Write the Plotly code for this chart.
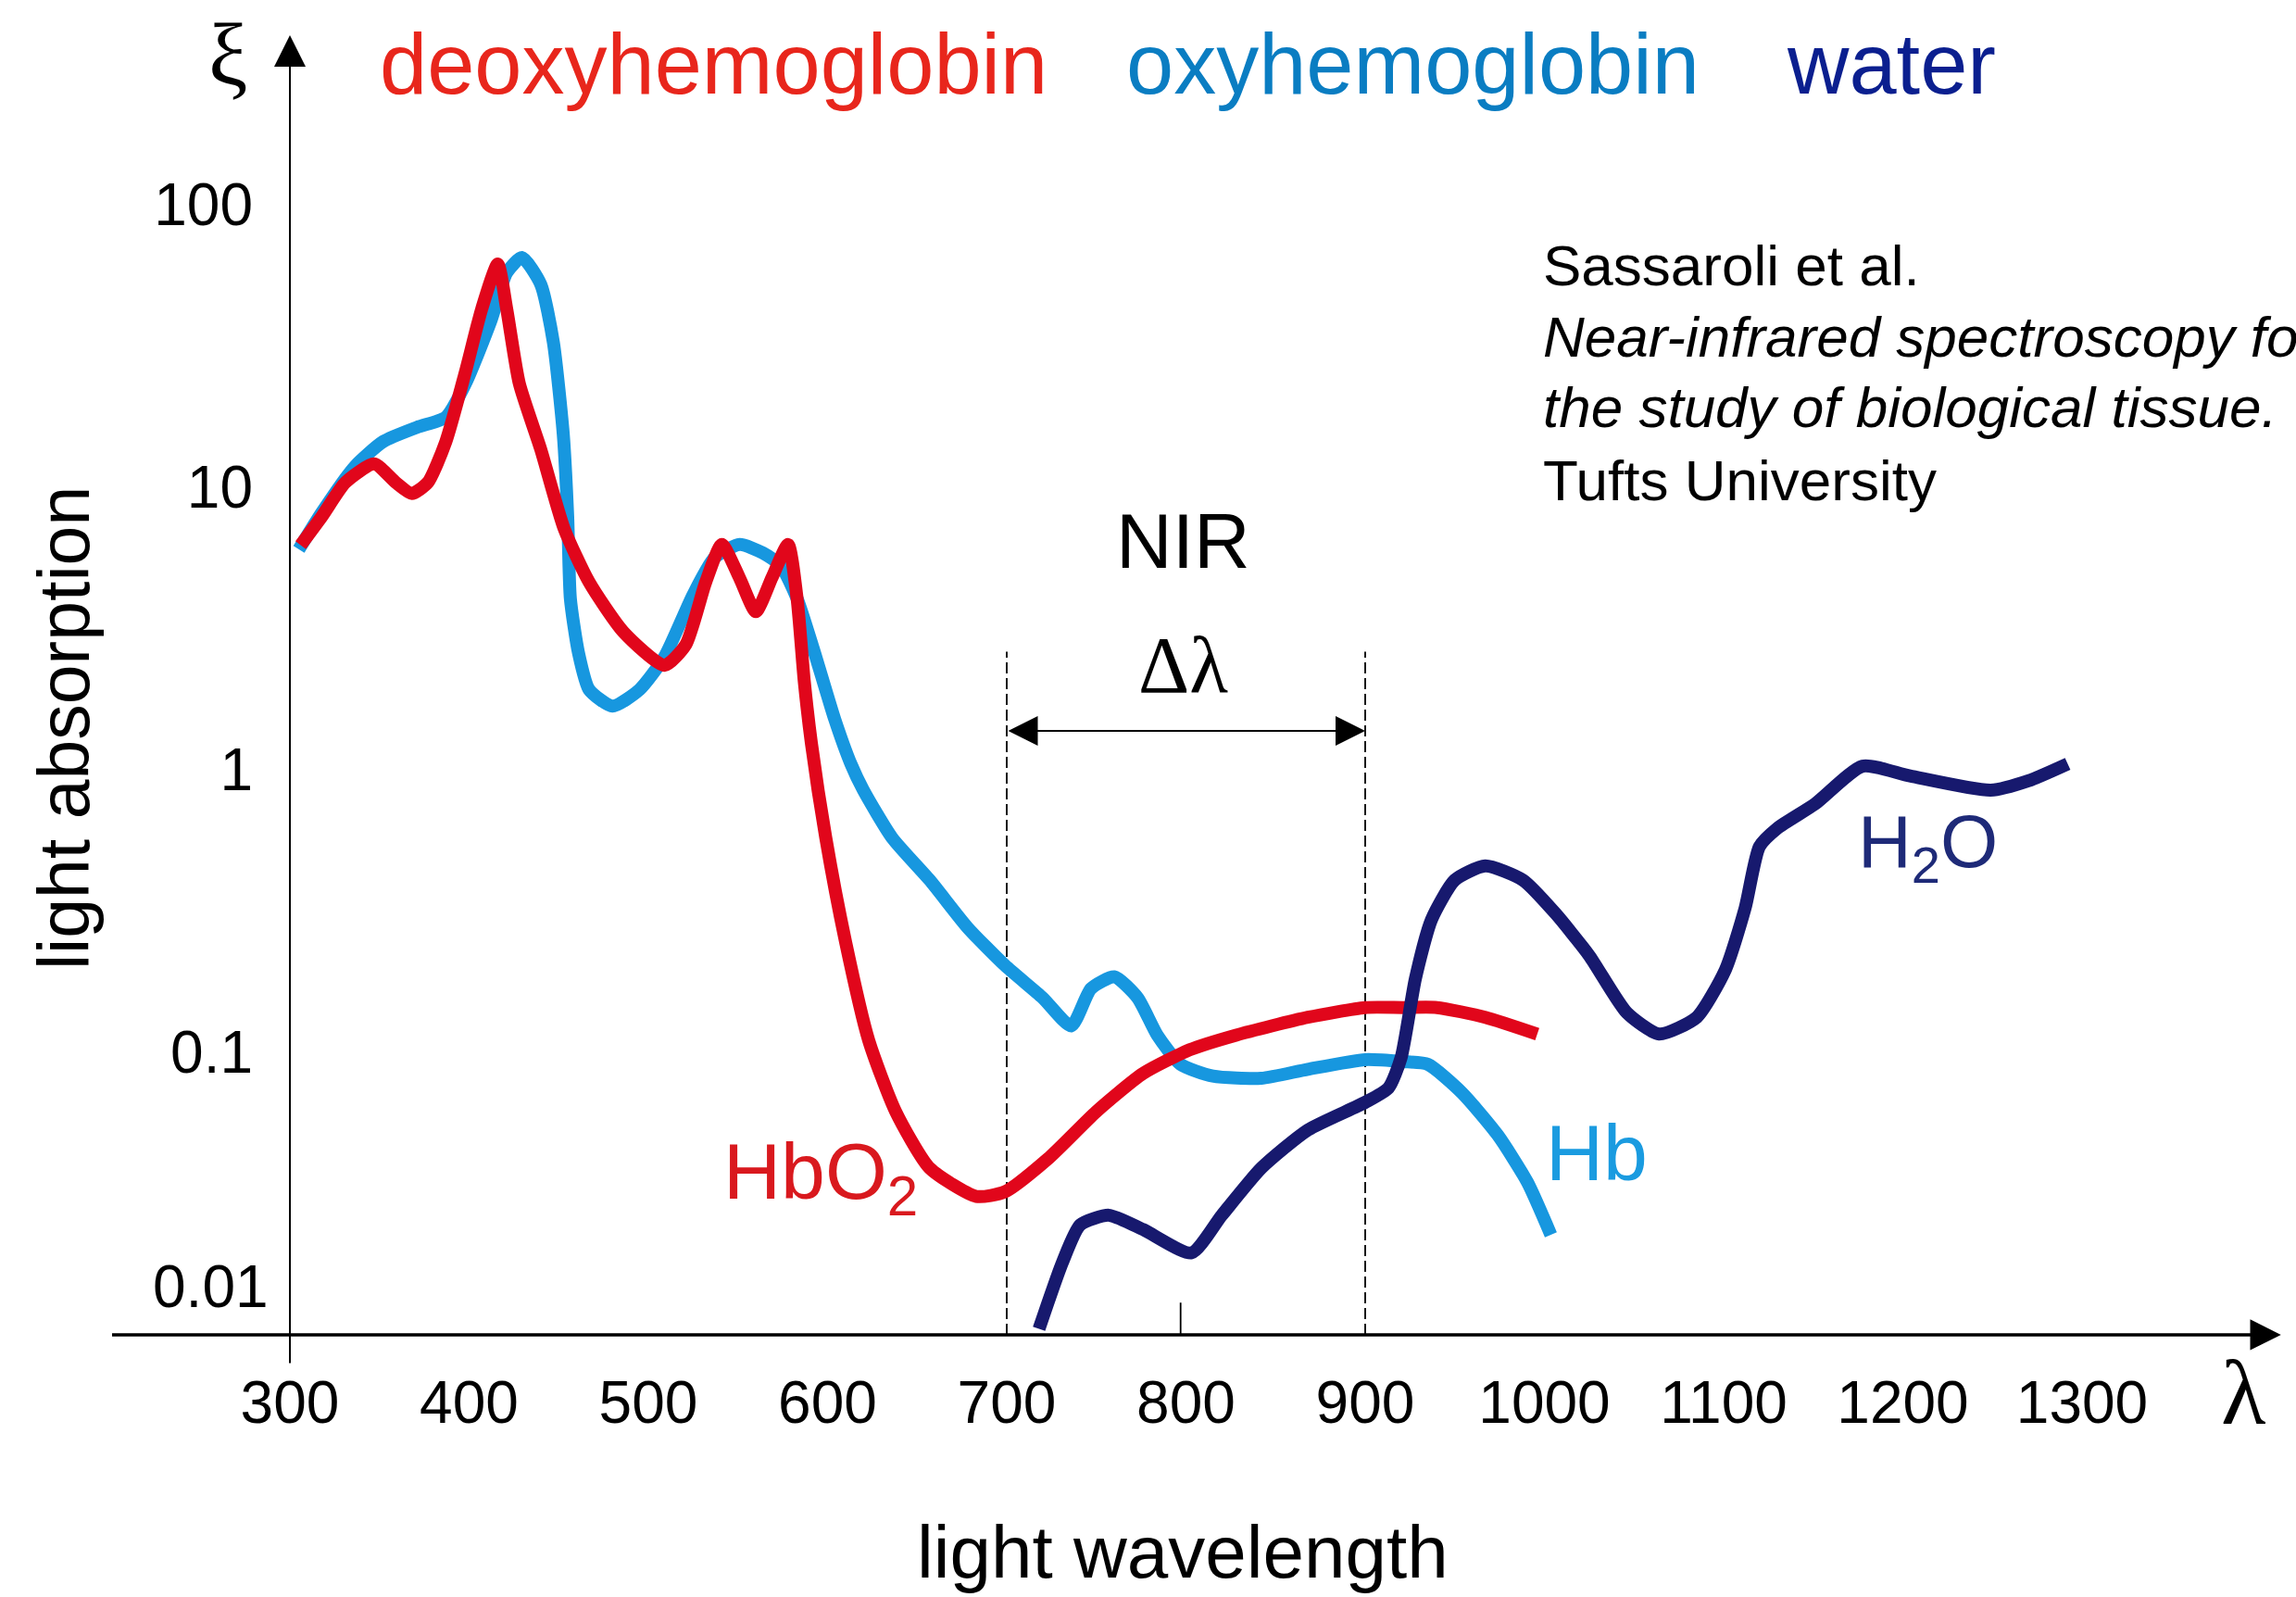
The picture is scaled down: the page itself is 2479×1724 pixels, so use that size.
import math
import plotly.graph_objects as go

# ---------------- data ----------------
wavelength_deoxy = [306, 318, 331, 347, 359, 368, 377, 387, 398, 407, 416, 421, 428, 440,
                    453, 467, 486, 509, 521, 532, 541, 551, 560, 569, 578, 583, 587, 591,
                    599, 610, 623, 638, 657, 683, 699, 723, 750, 776, 802, 828, 868, 900,
                    921, 940, 967, 996]
absorb_deoxy = [6.24, 7.91, 10.4, 12.1, 10.4, 9.5, 10.4, 14.5, 25.7, 42.7, 61.7, 42.7, 23.3, 13.6,
                7.14, 4.61, 3.08, 2.34, 2.78, 4.61, 6.27, 4.76, 3.63, 4.79, 6.27, 4.04, 2.06, 1.24,
                0.575, 0.247, 0.110, 0.0617, 0.0389, 0.0309, 0.0321, 0.0420, 0.0617, 0.0841, 0.102,
                0.115, 0.133, 0.144, 0.144, 0.144, 0.133, 0.116]

wavelength_oxy = [305, 318, 336, 352, 371, 387, 398, 412, 421, 429.5, 440, 447, 452.5, 455,
                  456.5, 461, 467, 480, 495, 509, 525, 537, 551, 564, 574, 583, 592, 604,
                  613, 620, 636, 657, 678, 699, 720, 736, 747, 760, 773, 784, 797, 815,
                  842, 868, 900, 921, 935, 954, 974, 990.5, 1003.6]
absorb_oxy = [6.03, 8.17, 11.8, 14.5, 16.3, 17.7, 23.3, 38.6, 57.5, 65.0, 52.2, 32.6, 15.5, 7.91,
              4.04, 2.60, 1.92, 1.68, 1.92, 2.51, 4.17, 5.64, 6.27, 5.85, 5.27, 4.04, 2.69, 1.51,
              1.05, 0.847, 0.575, 0.407, 0.277, 0.203, 0.156, 0.124, 0.168, 0.185, 0.156, 0.115,
              0.0906, 0.0824, 0.0809, 0.0871, 0.0942, 0.0927, 0.0906, 0.0719, 0.0509, 0.0347, 0.0226]

wavelength_water = [718, 731, 741, 757, 776, 803, 820, 842, 868, 900, 913, 920, 928, 937, 950,
                    967, 988, 1006, 1025, 1046, 1064, 1085, 1101, 1112, 1120, 1130, 1151,
                    1177.5, 1204, 1249, 1270, 1292]
absorb_water = [0.0105, 0.018, 0.0245, 0.0265, 0.0236, 0.0195, 0.0265, 0.0389, 0.0531, 0.0665,
                0.0748, 0.0955, 0.182, 0.295, 0.407, 0.457, 0.407, 0.311, 0.22, 0.138, 0.116,
                0.133, 0.196, 0.324, 0.535, 0.621, 0.757, 1.03, 0.951, 0.847, 0.914, 1.05]

x_ticks = [300, 400, 500, 600, 700, 800, 900, 1000, 1100, 1200, 1300]
y_ticks = [0.1, 1, 10, 100]
y_tick_text = ["0.1", "1", "10", "100"]
nir_band = [700, 900]
nir_band_top = 2.62
arrow_level = 1.373
y_floor = 0.01
minor_tick_x = 797
minor_tick_top = 0.013
x_axis_extent = [200, 1411]
y_axis_extent = [0.00785, 398]

# ---------------- styling ----------------
W, H = 2479, 1724
SANS = "Liberation Sans, Arial, Helvetica, sans-serif"
SERIF = "Liberation Serif, Times New Roman, serif"
RED = "#E1061B"
LBLUE = "#1797DF"
NAVY = "#17196E"
LW = 14


def P(px, py):
    return px / W, 1 - py / H


fig = go.Figure()

# dashed NIR boundaries and small tick
for xb in nir_band:
    fig.add_trace(go.Scatter(x=[xb, xb], y=[y_floor, nir_band_top], mode="lines",
                             line=dict(color="black", width=1.8, dash="12px,5px"),
                             hoverinfo="skip", showlegend=False))
fig.add_trace(go.Scatter(x=[minor_tick_x, minor_tick_x], y=[y_floor, minor_tick_top], mode="lines",
                         line=dict(color="black", width=1.8), hoverinfo="skip", showlegend=False))

# curves
fig.add_trace(go.Scatter(x=wavelength_oxy, y=absorb_oxy, mode="lines", name="oxyhemoglobin",
                         line=dict(color=LBLUE, width=LW, shape="spline", smoothing=0.6)))
fig.add_trace(go.Scatter(x=wavelength_deoxy, y=absorb_deoxy, mode="lines", name="deoxyhemoglobin",
                         line=dict(color=RED, width=LW, shape="spline", smoothing=0.6)))
fig.add_trace(go.Scatter(x=wavelength_water, y=absorb_water, mode="lines", name="water",
                         line=dict(color=NAVY, width=LW, shape="spline", smoothing=0.6)))

ann = []
# axes with arrows (annotation y on log axis is given in log10 units)
ann.append(dict(x=x_axis_extent[1], y=math.log10(y_floor), ax=x_axis_extent[0], ay=math.log10(y_floor),
                xref="x", yref="y", axref="x", ayref="y", text="", showarrow=True,
                arrowhead=2, arrowsize=1.9, arrowwidth=3.5, arrowcolor="black", standoff=0))
ann.append(dict(x=300, y=math.log10(y_axis_extent[1]), ax=300, ay=math.log10(y_axis_extent[0]),
                xref="x", yref="y", axref="x", ayref="y", text="", showarrow=True,
                arrowhead=2, arrowsize=3.4, arrowwidth=2, arrowcolor="black", standoff=0))
# delta-lambda double arrow
ann.append(dict(x=nir_band[1], y=math.log10(arrow_level), ax=nir_band[0], ay=math.log10(arrow_level),
                xref="x", yref="y", axref="x", ayref="y", text="", showarrow=True,
                arrowhead=2, arrowsize=3.2, arrowwidth=2, arrowcolor="black", standoff=0,
                arrowside="end+start", startarrowhead=2, startarrowsize=3.2, startstandoff=0))


def text(px, py, s, size, color="black", family=SANS, xanchor="left", yanchor="top", angle=0):
    x, y = P(px, py)
    ann.append(dict(x=x, y=y, xref="paper", yref="paper", text=s, showarrow=False,
                    xanchor=xanchor, yanchor=yanchor, textangle=angle,
                    font=dict(size=size, color=color, family=family)))


# header legend words
text(408, 16, "deoxyhemoglobin", 92, "#E8261C")
text(1214, 16, "oxyhemoglobin", 92, "#0A7DC2")
text(1927, 16, "water", 92, "#0B1F8F")

# citation
text(1664, 250, "Sassaroli et al.", 62)
text(1664, 327, "<i>Near-infrared spectroscopy for</i>", 62)
text(1664, 403, "<i>the study of biological tissue.</i>", 62)
text(1664, 482, "Tufts University", 62)

# NIR + delta lambda
text(1277, 535, "NIR", 84, xanchor="center")
text(1277, 668, "Δλ", 86, family=SERIF, xanchor="center")

# curve labels
text(779, 1214, "HbO<sub>2</sub>", 86, "#D9191E")
text(1667, 1194, "Hb", 86, "#1A9BE0")
text(2004, 862, "H<sub>2</sub>O", 80, "#1E2A78")

# axis symbols
text(246, 4, "ξ", 95, family=SERIF, xanchor="center")
text(2422, 1446, "λ", 100, family=SERIF, xanchor="center")

# 0.01 label (drawn above the axis line in the reference)
text(292, 1389, "0.01", 64, xanchor="right", yanchor="middle")

# axis titles
text(1277, 1629, "light wavelength", 80, xanchor="center")
text(69, 786, "light absorption", 77, xanchor="center", yanchor="middle", angle=-90)

fig.update_layout(
    width=W, height=H,
    margin=dict(l=0, r=0, t=0, b=0),
    paper_bgcolor="white", plot_bgcolor="white",
    showlegend=False,
    annotations=ann,
    xaxis=dict(range=[138.24, 1419.38], domain=[0, 1], anchor="free", position=1 - 1441 / H,
               showgrid=False, zeroline=False, showline=False, ticks="",
               tickvals=x_ticks, ticktext=[str(v) for v in x_ticks],
               tickfont=dict(size=64, family=SANS, color="black"), ticklabelstandoff=30),
    yaxis=dict(type="log", range=[-2.928, 2.7246], domain=[0, 1], anchor="free", position=313 / W,
               showgrid=False, zeroline=False, showline=False, ticks="",
               tickvals=y_ticks, ticktext=y_tick_text,
               tickfont=dict(size=64, family=SANS, color="black"), ticklabelstandoff=40),
)

fig.write_html("out.html", config={"displayModeBar": False},
               post_script="document.body.style.margin='0';document.body.style.overflow='hidden';")
